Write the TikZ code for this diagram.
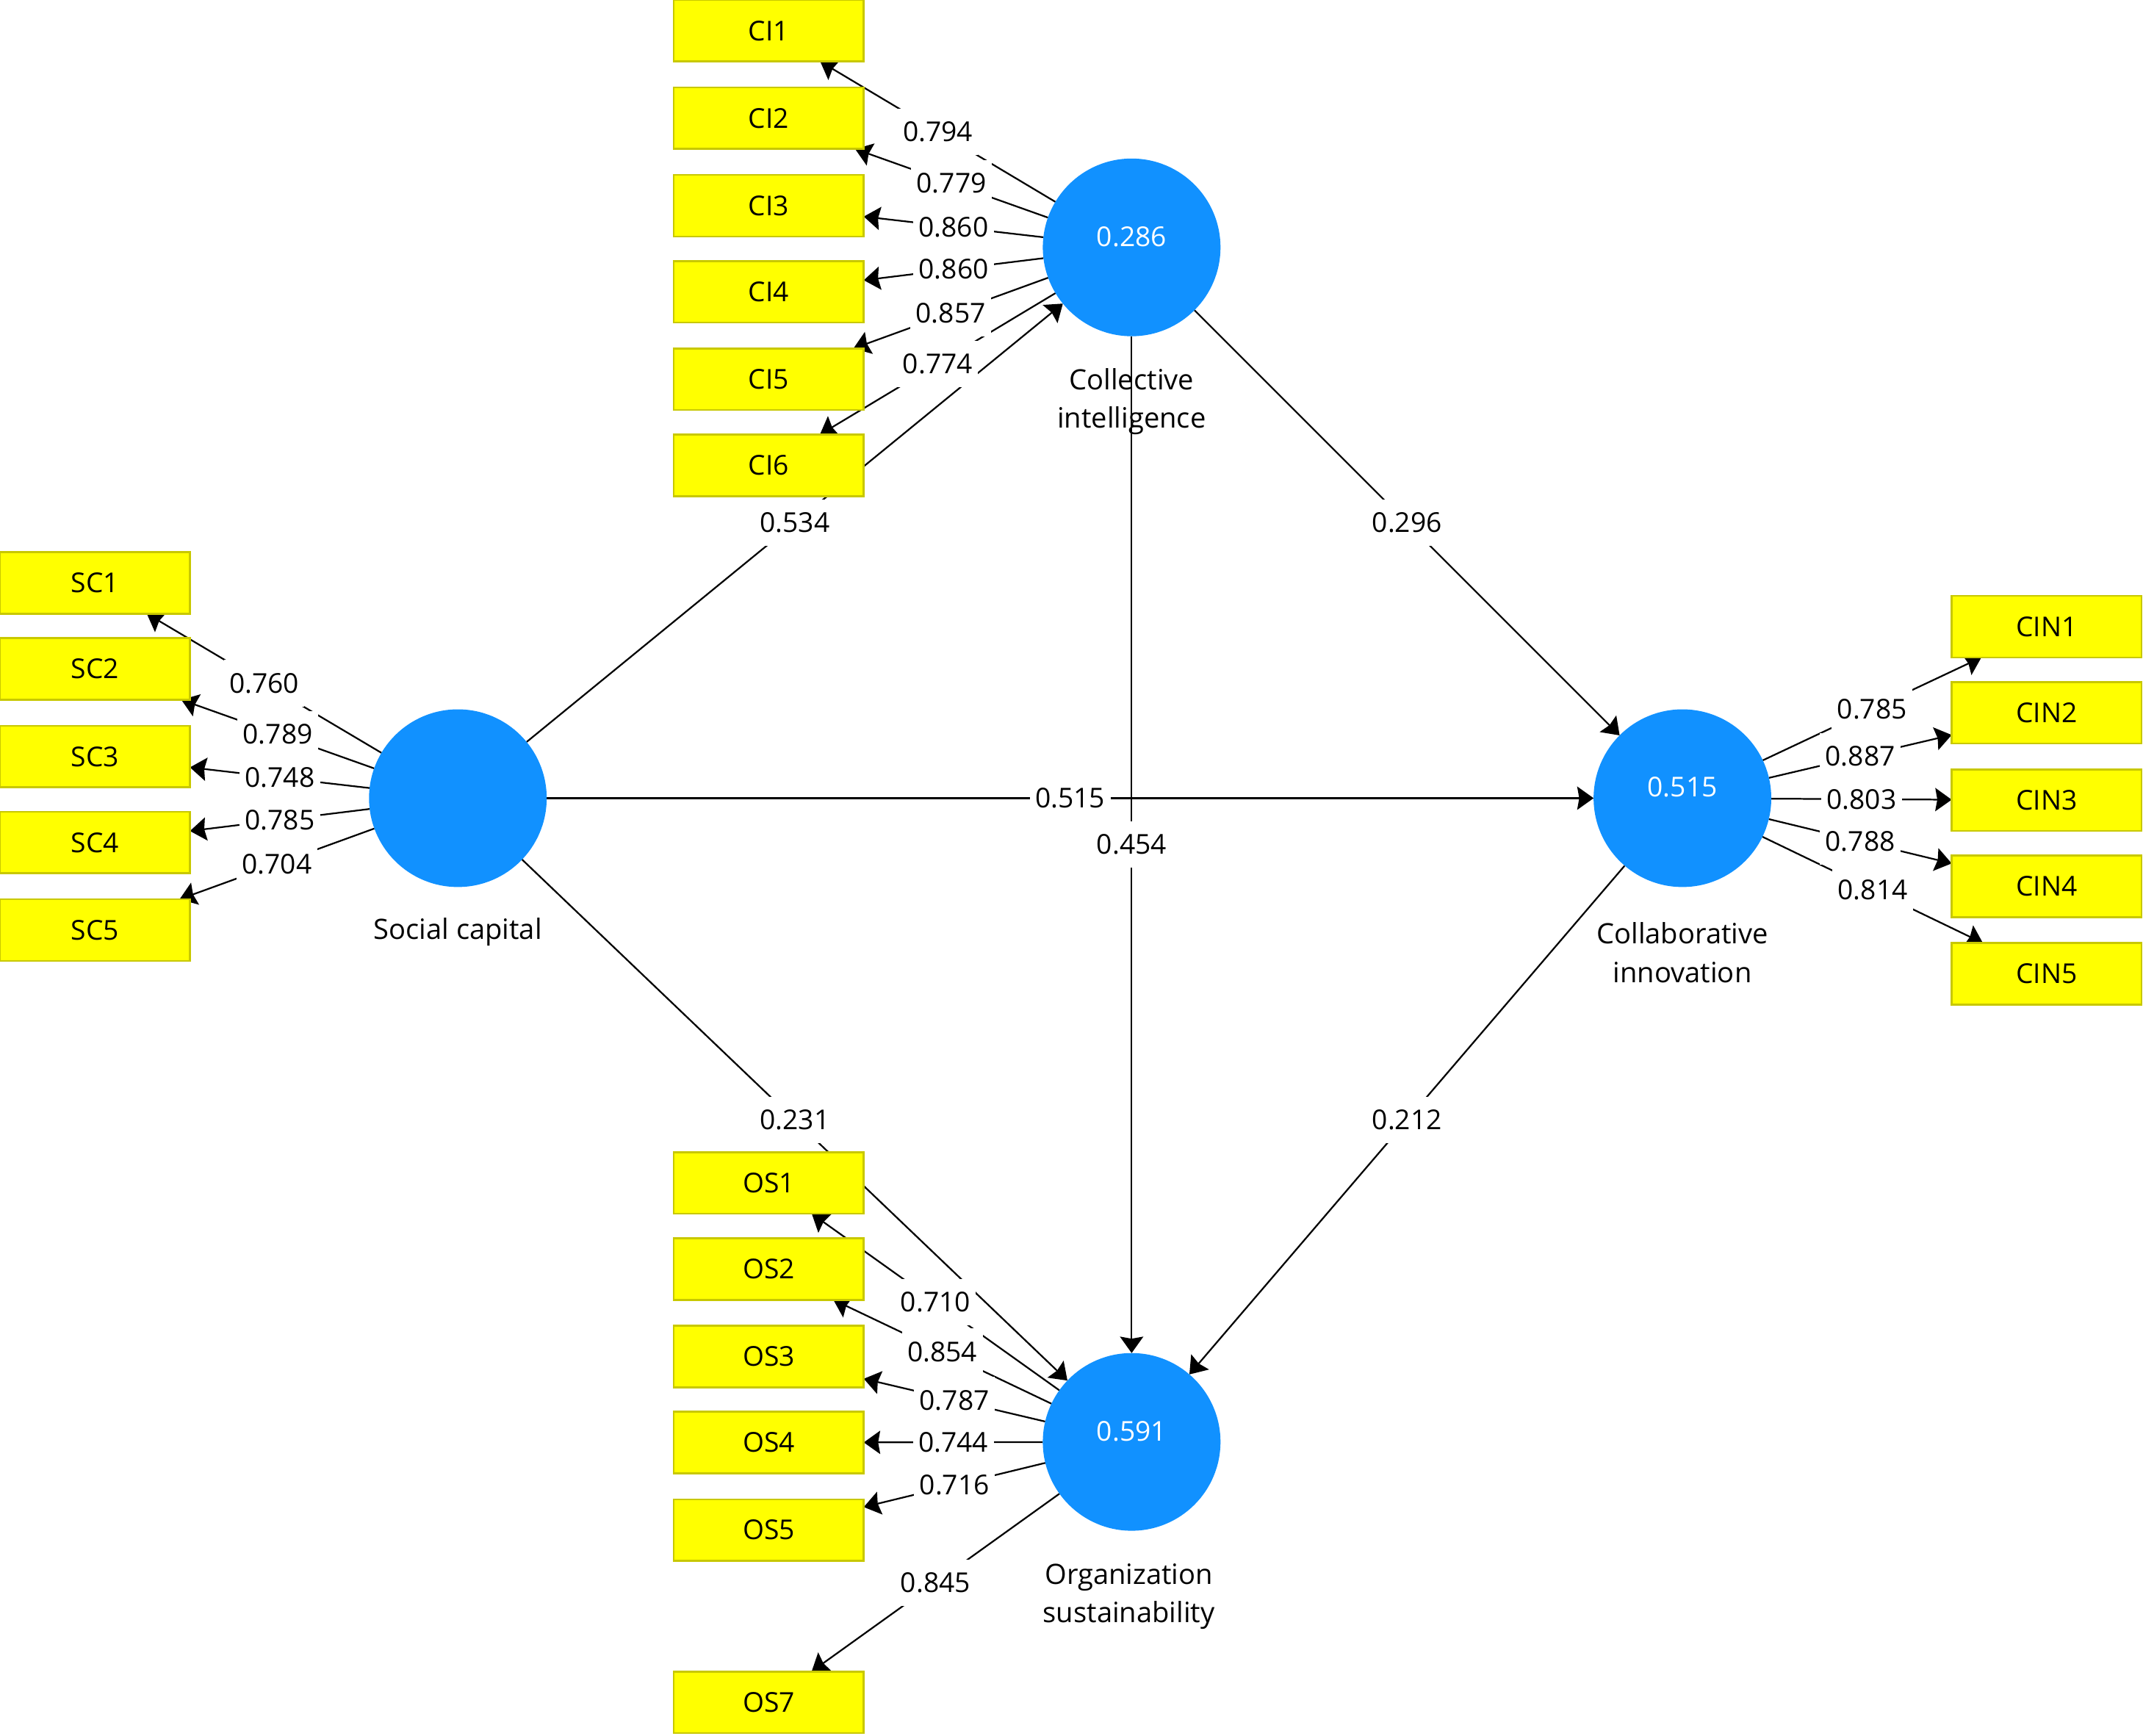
\documentclass[tikz,border=0pt]{standalone}
\usepackage{fontspec}
\setmainfont{Open Sans}
\usetikzlibrary{arrows.meta}
\pgfdeclarelayer{bg}
\pgfsetlayers{bg,main}
\definecolor{lvblue}{RGB}{17,145,255}
\definecolor{indyellow}{RGB}{255,255,0}
\definecolor{indborder}{RGB}{200,200,0}
\begin{document}
\begin{tikzpicture}[x=1pt,y=-1pt,
  ind/.style={draw=indborder, line width=1.4pt, fill=indyellow, minimum width=139pt, minimum height=45pt, inner sep=0pt, outer sep=0pt, font=\fontsize{20}{24}\selectfont},
  lv/.style={circle, fill=lvblue, minimum size=130pt, inner sep=0pt, outer sep=0pt},
  lvval/.style={text=white, inner sep=0pt, font=\fontsize{20}{24}\selectfont},
  lvname/.style={align=center, inner sep=0pt, font=\fontsize{20.5}{28}\selectfont},
  wt/.style={fill=white, inner xsep=4pt, inner ysep=0pt, minimum height=34pt, font=\fontsize{20}{24}\selectfont},
  link/.style={line width=1.2pt, -{Stealth[length=12pt,width=17pt,inset=1.5pt]}},
]
\useasboundingbox (0,0) rectangle (1568,1270);

% latent variables
\node[lv] (ci) at (828,181) {};
\node[lvval] (civ) at (828,173) {0.286};
\node[lvname] (cin-name) at (828,294) {Collective\\intelligence};

\node[lv] (sc) at (335,584) {};
\node[lvname] (sc-name) at (335,682) {Social capital};

\node[lv] (cin) at (1231,584) {};
\node[lvval] (cinv) at (1231,576) {0.515};
\node[lvname] (cin-lbl) at (1231,697) {Collaborative\\innovation};

\node[lv] (os) at (828,1055) {};
\node[lvval] (osv) at (828,1047) {0.591};
\node[lvname] (os-name) at (826,1168) {Organization\\sustainability};

% indicators
\node[ind] (ci1) at (562.5,22.5) {CI1};
\node[ind] (ci2) at (562.5,86.5) {CI2};
\node[ind] (ci3) at (562.5,150.5) {CI3};
\node[ind] (ci4) at (562.5,213.5) {CI4};
\node[ind] (ci5) at (562.5,277.5) {CI5};
\node[ind] (ci6) at (562.5,340.5) {CI6};

\node[ind] (sc1) at (69.5,426.5) {SC1};
\node[ind] (sc2) at (69.5,489.5) {SC2};
\node[ind] (sc3) at (69.5,553.5) {SC3};
\node[ind] (sc4) at (69.5,616.5) {SC4};
\node[ind] (sc5) at (69.5,680.5) {SC5};

\node[ind] (cin1) at (1497.5,458.5) {CIN1};
\node[ind] (cin2) at (1497.5,521.5) {CIN2};
\node[ind] (cin3) at (1497.5,585.5) {CIN3};
\node[ind] (cin4) at (1497.5,648.5) {CIN4};
\node[ind] (cin5) at (1497.5,712.5) {CIN5};

\node[ind] (os1) at (562.5,865.5) {OS1};
\node[ind] (os2) at (562.5,928.5) {OS2};
\node[ind] (os3) at (562.5,992.5) {OS3};
\node[ind] (os4) at (562.5,1055.5) {OS4};
\node[ind] (os5) at (562.5,1119.5) {OS5};
\node[ind] (os7) at (562.5,1245.5) {OS7};

% connectors
\begin{pgfonlayer}{bg}
\draw[link] (sc) -- (ci);
\draw[link] (sc) -- (cin);
\draw[link] (sc) -- (os);
\draw[link] (ci) -- (cin);
\draw[link] (ci) -- (os);
\draw[link] (cin) -- (os);
\foreach \i in {1,...,6} {\draw[link] (ci) -- (ci\i);}
\foreach \i in {1,...,5} {\draw[link] (sc) -- (sc\i);}
\foreach \i in {1,...,5} {\draw[link] (cin) -- (cin\i);}
\foreach \i in {1,...,5} {\draw[link] (os) -- (os\i);}
\draw[link] (os) -- (os7);
\end{pgfonlayer}

% path coefficients
\path (sc) -- (ci) node[wt,pos=0.5] (p1) {0.534};
\path (sc) -- (cin) node[wt,pos=0.5] (p2) {0.515};
\path (sc) -- (os) node[wt,pos=0.5] (p3) {0.231};
\path (ci) -- (cin) node[wt,pos=0.5] (p4) {0.296};
\path (ci) -- (os) node[wt,pos=0.5] (p5) {0.454};
\path (cin) -- (os) node[wt,pos=0.5] (p6) {0.212};

% loadings
\path (ci) -- (ci1) node[wt,pos=0.5] (lci1) {0.794};
\path (ci) -- (ci2) node[wt,pos=0.5] (lci2) {0.779};
\path (ci) -- (ci3) node[wt,pos=0.5] (lci3) {0.860};
\path (ci) -- (ci4) node[wt,pos=0.5] (lci4) {0.860};
\path (ci) -- (ci5) node[wt,pos=0.5] (lci5) {0.857};
\path (ci) -- (ci6) node[wt,pos=0.5] (lci6) {0.774};

\path (sc) -- (sc1) node[wt,pos=0.5] (lsc1) {0.760};
\path (sc) -- (sc2) node[wt,pos=0.5] (lsc2) {0.789};
\path (sc) -- (sc3) node[wt,pos=0.5] (lsc3) {0.748};
\path (sc) -- (sc4) node[wt,pos=0.5] (lsc4) {0.785};
\path (sc) -- (sc5) node[wt,pos=0.5] (lsc5) {0.704};

\path (cin) -- (cin1) node[wt,pos=0.5] (lcin1) {0.785};
\path (cin) -- (cin2) node[wt,pos=0.5] (lcin2) {0.887};
\path (cin) -- (cin3) node[wt,pos=0.5] (lcin3) {0.803};
\path (cin) -- (cin4) node[wt,pos=0.5] (lcin4) {0.788};
\path (cin) -- (cin5) node[wt,pos=0.5] (lcin5) {0.814};

\path (os) -- (os1) node[wt,pos=0.5] (los1) {0.710};
\path (os) -- (os2) node[wt,pos=0.5] (los2) {0.854};
\path (os) -- (os3) node[wt,pos=0.5] (los3) {0.787};
\path (os) -- (os4) node[wt,pos=0.5] (los4) {0.744};
\path (os) -- (os5) node[wt,pos=0.5] (los5) {0.716};
\path (os) -- (os7) node[wt,pos=0.5] (los7) {0.845};
\end{tikzpicture}
\end{document}
